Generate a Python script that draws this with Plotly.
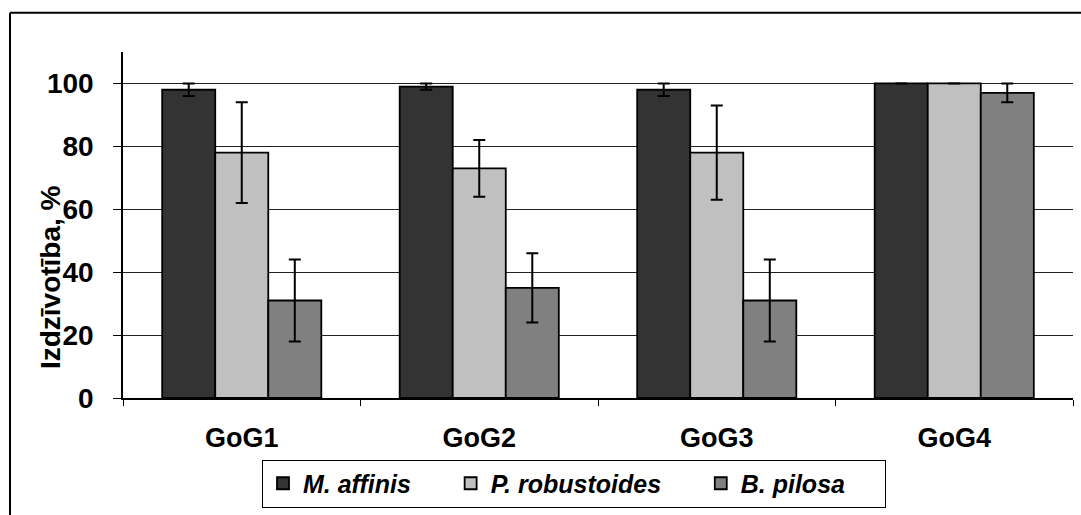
import plotly.graph_objects as go

categories = ["GoG1", "GoG2", "GoG3", "GoG4"]
series_names = ["M. affinis", "P. robustoides", "B. pilosa"]
m_affinis = [98, 99, 98, 100]
m_affinis_err = [2, 1, 2, 0]
p_robustoides = [78, 73, 78, 100]
p_robustoides_err = [16, 9, 15, 0]
b_pilosa = [31, 35, 31, 97]
b_pilosa_err = [13, 11, 13, 3]
y_ticks = [0, 20, 40, 60, 80, 100]

colors = ["#333333", "#C0C0C0", "#808080"]
values = [m_affinis, p_robustoides, b_pilosa]
errors = [m_affinis_err, p_robustoides_err, b_pilosa_err]

FONT = "Liberation Sans, Arial, sans-serif"
PAD = "\u00a0" * 5  # visual spacing between legend entries

fig = go.Figure()
for name, vals, errs, col in zip(series_names, values, errors, colors):
    fig.add_trace(go.Bar(
        x=categories, y=vals, name=name + PAD,
        marker=dict(color=col, line=dict(color="black", width=1.8)),
        error_y=dict(type="data", array=errs, visible=True,
                     color="black", thickness=2, width=6),
    ))

W, H = 1081, 515
L, R, T, B = 123, 8, 52, 111
pw, ph = W - L - R, H - T - B

def px(x):
    return (x - L) / pw

def py(y):
    return (H - B - y) / ph

fig.update_layout(
    width=W, height=H,
    margin=dict(l=L, r=R, t=T, b=B),
    paper_bgcolor="white", plot_bgcolor="white",
    barmode="group", bargap=0.33, bargroupgap=0,
    font=dict(family=FONT, size=27, color="black", weight="bold"),
    showlegend=True,
    legend=dict(
        orientation="h", x=px(574), y=py(491), xanchor="center", yanchor="middle",
        bordercolor="black", borderwidth=1, bgcolor="white",
        font=dict(family=FONT, size=25, color="black", weight="bold", style="italic"),
        itemwidth=30, traceorder="normal",
    ),
    xaxis=dict(
        showline=True, linecolor="black", linewidth=1.5,
        ticks="outside", tickson="boundaries", ticklen=6, tickcolor="black",
        tickfont=dict(family=FONT, size=27, color="black", weight="bold"),
        ticklabelstandoff=15,
    ),
    yaxis=dict(
        range=[0, 110], tickvals=y_ticks,
        showline=True, linecolor="black", linewidth=1.5,
        ticks="outside", ticklen=8, tickcolor="black",
        showgrid=True, gridcolor="#222222", gridwidth=1,
        tickfont=dict(family=FONT, size=28, color="black", weight="bold"),
        ticklabelstandoff=14, zeroline=False,
    ),
    annotations=[dict(
        text="Izdzīvotība, %", textangle=-90,
        xref="paper", yref="paper", x=px(50), y=py(281),
        xanchor="center", yanchor="middle", showarrow=False,
        font=dict(family=FONT, size=28, color="black", weight="bold"),
    )],
    shapes=[
        dict(type="line", xref="paper", yref="paper",
             x0=px(10), y0=py(12), x1=px(1090), y1=py(12),
             line=dict(color="black", width=2)),
        dict(type="line", xref="paper", yref="paper",
             x0=px(10), y0=py(12), x1=px(10), y1=py(530),
             line=dict(color="black", width=2)),
    ],
)

fig.write_html("out.html")
